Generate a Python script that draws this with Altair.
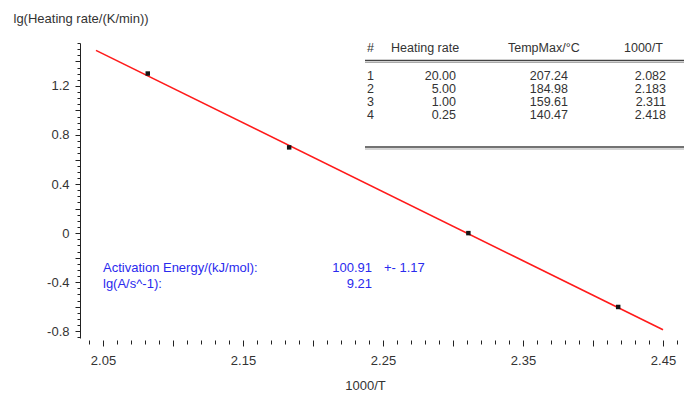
import altair as alt
import pandas as pd

# ---------------- data ----------------
inv_T = [2.082, 2.183, 2.311, 2.418]          # 1000/T
lg_rate = [1.301, 0.699, 0.0, -0.602]         # lg(heating rate)
fit_x = [2.045, 2.45]                         # regression line ends
fit_y = [1.49, -0.787]

tbl_headers = ["#", "Heating rate", "TempMax/°C", "1000/T"]
tbl_idx = ["1", "2", "3", "4"]
tbl_rate = ["20.00", "5.00", "1.00", "0.25"]
tbl_tmax = ["207.24", "184.98", "159.61", "140.47"]
tbl_invT = ["2.082", "2.183", "2.311", "2.418"]

ea_label = "Activation Energy/(kJ/mol):"
ea_value = "100.91"
ea_err = "+- 1.17"
lgA_label = "lg(A/s^-1):"
lgA_value = "9.21"

x_ticks = [round(2.04 + 0.01 * i, 2) for i in range(43)]
y_ticks = [round(-0.85 + 0.05 * i, 2) for i in range(49)]
x_domain = [2.0336, 2.465]
y_domain = [-0.855, 1.55]

# ---------------- layout (pixels, plot coords) ----------------
W, H = 604, 295
FONT = "Liberation Sans"
TXT = "#333333"
BLUE = "#2a2aee"

col_left_x = [287, 311, 428, 544]     # header / # column left edges
col_right_x = [None, 376, 488, 586]   # right edges of value columns
header_y = 5
row_y = [32.5, 45.8, 59.1, 72.4]

pts = pd.DataFrame({"x": inv_T, "y": lg_rate})
fit = pd.DataFrame({"x": fit_x, "y": fit_y})

xscale = alt.Scale(domain=x_domain, nice=False, zero=False)
yscale = alt.Scale(domain=y_domain, nice=False, zero=False)

x_axis = alt.Axis(
    values=x_ticks, domain=False, grid=False, offset=2,
    tickSize={"condition": {"test": "abs(datum.value*20 - round(datum.value*20)) < 0.001", "value": 6}, "value": 4},
    tickColor="#222", tickWidth=1,
    labelExpr="abs(datum.value*10 - 0.5 - floor(datum.value*10)) < 0.001 ? '' + datum.value : ''",
    labelOverlap=False, labelFlush=False, labelPadding=8,
    labelFont=FONT, labelFontSize=13, labelColor=TXT,
    title="1000/T", titleFont=FONT, titleFontSize=13, titleFontWeight="normal", titleColor=TXT,
    titleX=285, titleY=45, titleBaseline="middle", titleAlign="center",
)
y_axis = alt.Axis(
    values=y_ticks, domain=True, domainColor="#222", grid=False,
    tickSize={"condition": {"test": "abs(datum.value*5 - round(datum.value*5)) < 0.001", "value": 5}, "value": 3},
    tickColor="#222", tickWidth=1,
    labelExpr="abs(datum.value/0.4 - round(datum.value/0.4)) < 0.001 ? '' + datum.value : ''",
    labelOverlap=False, labelFlush=False, labelPadding=6,
    labelFont=FONT, labelFontSize=13, labelColor=TXT,
    title="lg(Heating rate/(K/min))", titleFont=FONT, titleFontSize=13, titleFontWeight="normal",
    titleColor=TXT, titleAngle=0, titleAlign="left", titleBaseline="middle", titleX=-67, titleY=-25,
)

line = alt.Chart(fit).mark_line(color="#ff1a1a", strokeWidth=1.6).encode(
    x=alt.X("x:Q", scale=xscale, axis=x_axis),
    y=alt.Y("y:Q", scale=yscale, axis=y_axis),
)
points = alt.Chart(pts).mark_square(size=20, color="#151515", opacity=1).encode(
    x=alt.X("x:Q", scale=xscale, axis=None),
    y=alt.Y("y:Q", scale=yscale, axis=None),
)

# table
left_rows = [{"t": h, "px": col_left_x[i], "py": header_y} for i, h in enumerate(tbl_headers)]
left_rows += [{"t": v, "px": col_left_x[0], "py": row_y[i]} for i, v in enumerate(tbl_idx)]
right_rows = []
for c, col in ((1, tbl_rate), (2, tbl_tmax), (3, tbl_invT)):
    for i, v in enumerate(col):
        right_rows.append({"t": v, "px": col_right_x[c], "py": row_y[i]})

def text_layer(df, align, color, size=13):
    return alt.Chart(df).mark_text(
        align=align, baseline="middle", font=FONT, fontSize=size, color=color
    ).encode(
        x=alt.X("px:Q", scale=None, axis=None),
        y=alt.Y("py:Q", scale=None, axis=None),
        text="t:N",
    )

tbl_left = text_layer(pd.DataFrame(left_rows), "left", TXT, 12.5)
tbl_right = text_layer(pd.DataFrame(right_rows), "right", TXT, 12.5)

def hrule(y, color, w):
    return alt.Chart(pd.DataFrame({"a": [0]})).mark_rule(color=color, strokeWidth=w).encode(
        x=alt.value(285), x2=alt.value(W), y=alt.value(y))

rules = [hrule(17.5, "#444444", 1.5), hrule(19.5, "#aaaaaa", 1),
         hrule(104, "#444444", 1.5), hrule(106, "#aaaaaa", 1)]

# annotation
ann_left = pd.DataFrame({"t": [ea_label, lgA_label, ea_err], "px": [23, 23, 304], "py": [225, 241, 225]})
ann_right = pd.DataFrame({"t": [ea_value, lgA_value], "px": [292, 292], "py": [225, 241]})
a1 = text_layer(ann_left, "left", BLUE)
a2 = text_layer(ann_right, "right", BLUE)

chart = alt.layer(line, points, *rules, tbl_left, tbl_right, a1, a2).resolve_scale(
    x="independent", y="independent"
).properties(
    width=W, height=H,
    padding={"left": 80, "top": 43, "right": 0, "bottom": 63},
    autosize=alt.AutoSizeParams(type="none"),
    background="white",
).configure_view(stroke=None)

chart.save("out.html", embed_options={"renderer": "svg", "actions": False})
